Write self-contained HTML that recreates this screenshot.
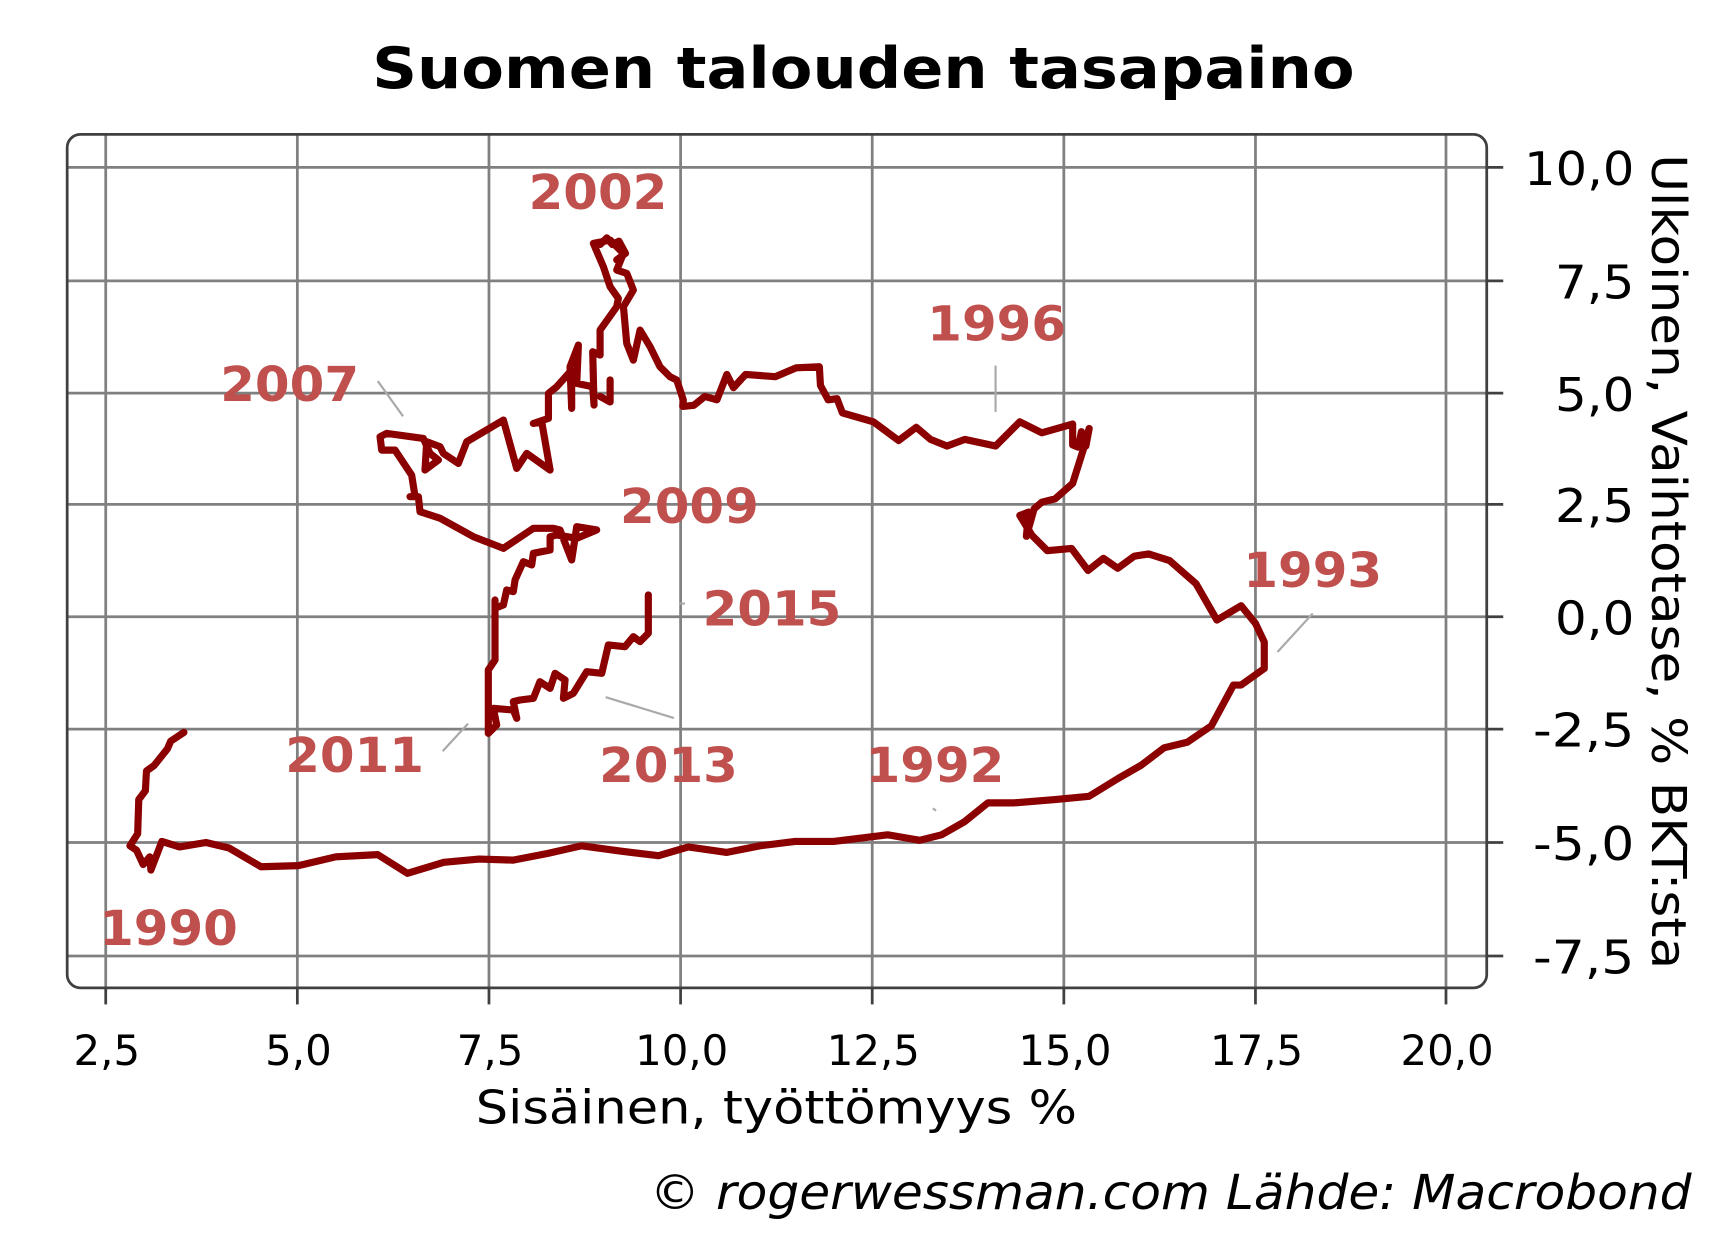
<!DOCTYPE html>
<html><head><meta charset="utf-8"><style>html,body{margin:0;padding:0;background:#fff}svg{display:block}</style></head>
<body>
<svg width="1718" height="1250" viewBox="0 0 1560 1135" preserveAspectRatio="none" xmlns="http://www.w3.org/2000/svg">
<rect width="1560" height="1135" fill="#fff"/>
<text x="784" y="80" font-family="DejaVu Sans, sans-serif" font-weight="bold" font-size="52" text-anchor="middle" textLength="892" lengthAdjust="spacingAndGlyphs">Suomen talouden tasapaino</text>
<g stroke="#808080" stroke-width="2.5">
<line x1="96" y1="122" x2="96" y2="897"/><line x1="270" y1="122" x2="270" y2="897"/><line x1="444" y1="122" x2="444" y2="897"/><line x1="618" y1="122" x2="618" y2="897"/><line x1="792" y1="122" x2="792" y2="897"/><line x1="966" y1="122" x2="966" y2="897"/><line x1="1140" y1="122" x2="1140" y2="897"/><line x1="1313" y1="122" x2="1313" y2="897"/>
<line x1="61" y1="152" x2="1350" y2="152"/><line x1="61" y1="255" x2="1350" y2="255"/><line x1="61" y1="357" x2="1350" y2="357"/><line x1="61" y1="458" x2="1350" y2="458"/><line x1="61" y1="560" x2="1350" y2="560"/><line x1="61" y1="662" x2="1350" y2="662"/><line x1="61" y1="765" x2="1350" y2="765"/><line x1="61" y1="868" x2="1350" y2="868"/>
</g>
<rect x="61" y="122" width="1289" height="775" rx="12" fill="none" stroke="#404040" stroke-width="2.5"/>
<g stroke="#404040" stroke-width="2.5">
<line x1="96" y1="897" x2="96" y2="912"/><line x1="270" y1="897" x2="270" y2="912"/><line x1="444" y1="897" x2="444" y2="912"/><line x1="618" y1="897" x2="618" y2="912"/><line x1="792" y1="897" x2="792" y2="912"/><line x1="966" y1="897" x2="966" y2="912"/><line x1="1140" y1="897" x2="1140" y2="912"/><line x1="1313" y1="897" x2="1313" y2="912"/>
<line x1="1350" y1="152" x2="1365" y2="152"/><line x1="1350" y1="255" x2="1365" y2="255"/><line x1="1350" y1="357" x2="1365" y2="357"/><line x1="1350" y1="458" x2="1365" y2="458"/><line x1="1350" y1="560" x2="1365" y2="560"/><line x1="1350" y1="662" x2="1365" y2="662"/><line x1="1350" y1="765" x2="1365" y2="765"/><line x1="1350" y1="868" x2="1365" y2="868"/>
</g>
<g font-family="DejaVu Sans, sans-serif" font-size="38" text-anchor="middle">
<text x="97" y="967">2,5</text><text x="271" y="967">5,0</text><text x="445" y="967">7,5</text><text x="619" y="967">10,0</text><text x="793" y="967">12,5</text><text x="967" y="967">15,0</text><text x="1141" y="967">17,5</text><text x="1314" y="967">20,0</text>
</g>
<g font-family="DejaVu Sans, sans-serif" font-size="42" text-anchor="end">
<text x="1484" y="168" textLength="100" lengthAdjust="spacingAndGlyphs">10,0</text><text x="1484" y="271" textLength="72" lengthAdjust="spacingAndGlyphs">7,5</text><text x="1484" y="373" textLength="72" lengthAdjust="spacingAndGlyphs">5,0</text><text x="1484" y="474" textLength="72" lengthAdjust="spacingAndGlyphs">2,5</text><text x="1484" y="576" textLength="72" lengthAdjust="spacingAndGlyphs">0,0</text><text x="1484" y="678" textLength="92" lengthAdjust="spacingAndGlyphs">-2,5</text><text x="1484" y="781" textLength="92" lengthAdjust="spacingAndGlyphs">-5,0</text><text x="1484" y="884" textLength="92" lengthAdjust="spacingAndGlyphs">-7,5</text>
</g>
<text x="705" y="1020" font-family="DejaVu Sans, sans-serif" font-size="42" text-anchor="middle" textLength="546" lengthAdjust="spacingAndGlyphs">Sisäinen, työttömyys %</text>
<text transform="translate(1500,510) rotate(90)" font-family="DejaVu Sans, sans-serif" font-size="44" text-anchor="middle" textLength="740" lengthAdjust="spacingAndGlyphs">Ulkoinen, Vaihtotase, % BKT:sta</text>
<text x="1536" y="1098" font-family="DejaVu Sans, sans-serif" font-style="italic" font-size="44" text-anchor="end" textLength="946" lengthAdjust="spacingAndGlyphs">© rogerwessman.com Lähde: Macrobond</text>
<g stroke="#aaa" stroke-width="2">
<line x1="904" y1="332" x2="904" y2="374"/><line x1="343" y1="346" x2="366" y2="378"/><line x1="617" y1="548" x2="622" y2="548"/><line x1="1192" y1="557" x2="1160" y2="592"/><line x1="402" y1="682" x2="425" y2="657"/><line x1="550" y1="633" x2="612" y2="652"/><line x1="847" y1="734" x2="850" y2="736"/>
</g>
<g fill="none" stroke="#8b0000" stroke-width="6.5" stroke-linejoin="round" stroke-linecap="round">
<polyline points="167,665 155,673 152,680 140,695 133,700 132,718 126,726 125,757 118,768 124,772 130,785 136,778 137,790 147,764 163,769 187,765 208,770 237,787 271,786 305,778 343,776 370,793 403,783 435,780 466,781 497,775 528,768 565,773 598,777 625,769 660,774 690,768 722,764 757,764 806,758 835,763 855,758 876,746 897,729 921,729 958,726 989,723 1015,707 1036,695 1057,679 1078,674 1100,659 1120,622 1127,622 1148,607 1148,583 1140,566 1127,550 1105,563 1086,530 1062,509 1043,503 1030,505 1015,516 1002,507 988,518 973,498 951,500 937,486 926,468 934,465 932,487 939,462 946,456 958,453 974,439 985,404 989,389 986,405 982,392 979,406 974,404 974,385 946,393 926,383 904,405 876,399 860,405 845,399 832,388 816,400 793,383 765,375 760,362 752,363 745,350 744,333 723,334 704,342 677,340 666,352 660,340 651,363 640,360 630,368 620,369 620.5,363.3 614.5,345.1 608.4,342.1 599.3,333 590.3,314.8 581.2,299.7 575.1,327 569.1,311.8 566.1,278.5 575.1,263.4 569.1,248.2 560,245.2 566.1,230.1 554,218 538.8,221 547.9,242.2 554,260.3 561.5,271 560,278.5 544.9,299.7 544.9,322.4 538.2,319.4 539.4,367.8 538.2,351.2 523.7,348.1 525.2,313.3 517.6,333 519.1,370.8 519.1,336 505.5,351.2 498,357.2 498,379.9 484.3,384.5 491.9,383 499.5,426.8 478.3,411.7 469.2,425.3 457.1,381.4 423.8,401.1 416.2,420.8 402.6,411.7 399.6,405.6 387.5,401.1 385.9,426.8 398.1,417.7 390.5,411.7 384.4,398.1 351.1,393.5 345.1,396.6 346.6,408.7 351.1,408.7 358.7,408.7 373.8,431.4 376.9,451 372.3,451 379.9,451 381.4,464.6 399.6,470.6 429.8,487.3 457.1,497.9 484.3,479.7 502.5,479.7 508.5,481.2 519.1,508.4 523.7,478.2 541.8,481.2 523.7,488.8 505.5,485.7 499.5,487.3 499.5,499.4 484.3,502.4 482.8,513 475.2,510 467.7,526.6 466.1,537.2 460.1,535.7 457.1,549.3 449.5,552.3 449.5,544.8 449.5,599.3 443.4,608.3 443.4,665.9 451,658.3 448,643.2 466.1,644.7 469.2,652.2 466.1,637.1 472.2,635.6 484.3,634.1 490.3,619 499.5,625 504,611.4 513.1,617.4 511.6,634.1 520.6,629.5 532.7,609.9 546.4,611.4 552.4,585.6 567.5,587.2 575.1,578.1 581.2,582.6 588.7,575 588.7,540.2"/>
<polyline points="554,345 554,365 545,360"/>
<polyline points="545,222 551,216 556,222 562,219 568,230 560,236"/>
</g>
<g font-family="DejaVu Sans, sans-serif" font-weight="bold" font-size="44" fill="#c0504d" text-anchor="middle">
<text x="543" y="190" textLength="126" lengthAdjust="spacingAndGlyphs">2002</text><text x="905" y="309" textLength="126" lengthAdjust="spacingAndGlyphs">1996</text><text x="263" y="364" textLength="126" lengthAdjust="spacingAndGlyphs">2007</text><text x="626" y="475" textLength="126" lengthAdjust="spacingAndGlyphs">2009</text><text x="701" y="568" textLength="126" lengthAdjust="spacingAndGlyphs">2015</text><text x="1192" y="533" textLength="126" lengthAdjust="spacingAndGlyphs">1993</text><text x="322" y="701" textLength="126" lengthAdjust="spacingAndGlyphs">2011</text><text x="607" y="710" textLength="126" lengthAdjust="spacingAndGlyphs">2013</text><text x="849" y="710" textLength="126" lengthAdjust="spacingAndGlyphs">1992</text><text x="153" y="858" textLength="126" lengthAdjust="spacingAndGlyphs">1990</text>
</g>
</svg>
</body></html>
